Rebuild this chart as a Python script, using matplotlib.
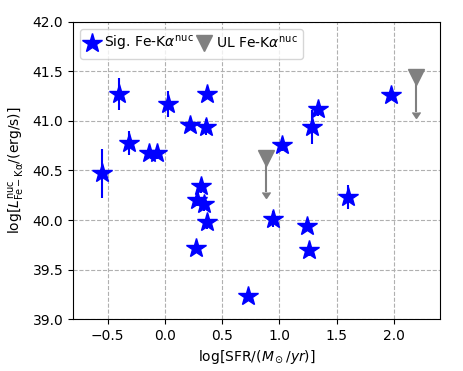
import numpy as np
import matplotlib.pyplot as plt
from matplotlib.lines import Line2D

# significant nuclear Fe-Kalpha detections
sfr = [-0.55, -0.40, -0.31, -0.14, -0.07, 0.03, 0.22, 0.36, 0.37, 0.32, 0.28, 0.34, 0.37,
       0.27, 0.73, 0.94, 1.02, 1.28, 1.34, 1.60, 1.24, 1.26, 1.97]
lfe = [40.47, 41.27, 40.78, 40.68, 40.68, 41.17, 40.96, 40.94, 41.27, 40.34, 40.20, 40.16, 39.98,
       39.72, 39.23, 40.01, 40.76, 40.94, 41.12, 40.23, 39.94, 39.70, 41.26]
lfe_err = [0.25, 0.16, 0.12, 0.05, 0.06, 0.13, 0.04, 0.08, 0.04, 0.07, 0.06, 0.07, 0.07,
           0.04, 0.03, 0.08, 0.06, 0.17, 0.07, 0.12, 0.05, 0.06, 0.04]

# upper limits
sfr_ul = [0.88, 2.19]
lfe_ul = [40.63, 41.44]

fig, ax = plt.subplots(figsize=(4.63, 3.71), dpi=100)
fig.subplots_adjust(left=0.158, right=0.950, top=0.941, bottom=0.140)

ax.errorbar(sfr, lfe, yerr=lfe_err, fmt='*', color='blue', ms=15, elinewidth=1.5, zorder=3)
ax.errorbar(sfr_ul, lfe_ul, yerr=0.35, uplims=True, fmt='none', color='grey', ecolor='grey',
            elinewidth=1.5, capsize=3, zorder=2)
ax.plot(sfr_ul, lfe_ul, 'v', color='grey', ms=11, zorder=3)

ax.set_xlim(-0.8, 2.4)
ax.set_ylim(39.0, 42.0)
ax.grid(True, linestyle='--')
ax.set_axisbelow(True)
ax.set_xlabel(r'log[SFR/$(M_\odot/yr)$]')
ax.set_ylabel(r'log[$L^{\rm nuc}_{\rm Fe-K\alpha}$/(erg/s)]')

# legend proxies (no error bars in the legend)
h1 = Line2D([], [], marker='*', color='blue', ls='none', ms=15, label=r'Sig. Fe-K$\alpha^{\rm nuc}$')
h2 = Line2D([], [], marker='v', color='grey', ls='none', ms=11, label=r'UL Fe-K$\alpha^{\rm nuc}$')
ax.legend(handles=[h1, h2], loc='upper left', ncol=2, handlelength=0.9,
          handletextpad=0.4, columnspacing=0.3)

plt.savefig('out.png', dpi=100)
